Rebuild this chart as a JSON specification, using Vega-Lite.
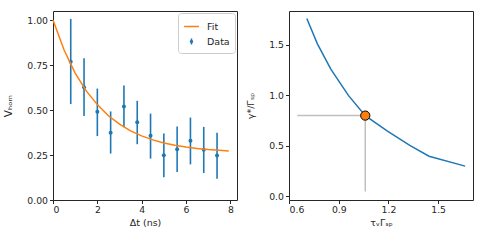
{
  "$schema": "https://vega.github.io/schema/vega-lite/v6.json",
  "padding": {"left": 2, "top": 10, "right": 5, "bottom": 5},
  "spacing": 6,
  "resolve": {"legend": {"color": "independent"}, "scale": {"color": "independent"}},
  "config": {
    "font": "DejaVu Sans",
    "view": {"stroke": "#262626", "strokeWidth": 1},
    "axis": {
      "grid": false,
      "domain": false,
      "tickColor": "#262626",
      "tickSize": 3.5,
      "labelColor": "#262626",
      "labelFont": "DejaVu Sans",
      "labelFontSize": 9.3,
      "labelPadding": 2,
      "titleFont": "DejaVu Sans",
      "titleFontSize": 9.5,
      "titleFontWeight": "normal",
      "titleColor": "#262626"
    }
  },
  "hconcat": [
    {
      "width": 184,
      "height": 189,
      "layer": [
        {
          "data": {"values": [
            {"t": 0.8, "v": 0.768, "lo": 0.533, "hi": 1.006},
            {"t": 1.4, "v": 0.626, "lo": 0.467, "hi": 0.787},
            {"t": 2.0, "v": 0.490, "lo": 0.355, "hi": 0.619},
            {"t": 2.6, "v": 0.374, "lo": 0.258, "hi": 0.492},
            {"t": 3.2, "v": 0.520, "lo": 0.404, "hi": 0.636},
            {"t": 3.8, "v": 0.432, "lo": 0.310, "hi": 0.551},
            {"t": 4.4, "v": 0.357, "lo": 0.230, "hi": 0.480},
            {"t": 5.0, "v": 0.249, "lo": 0.127, "hi": 0.370},
            {"t": 5.6, "v": 0.282, "lo": 0.155, "hi": 0.409},
            {"t": 6.2, "v": 0.329, "lo": 0.198, "hi": 0.458},
            {"t": 6.8, "v": 0.279, "lo": 0.150, "hi": 0.406},
            {"t": 7.4, "v": 0.247, "lo": 0.118, "hi": 0.374}
          ]},
          "mark": {"type": "rule", "color": "#1f77b4", "strokeWidth": 1.6},
          "encoding": {
            "x": {"field": "t", "type": "quantitative"},
            "y": {"field": "lo", "type": "quantitative"},
            "y2": {"field": "hi"}
          }
        },
        {
          "data": {"values": [
            {"t": 0.8, "v": 0.768, "series": "Data"},
            {"t": 1.4, "v": 0.626, "series": "Data"},
            {"t": 2.0, "v": 0.490, "series": "Data"},
            {"t": 2.6, "v": 0.374, "series": "Data"},
            {"t": 3.2, "v": 0.520, "series": "Data"},
            {"t": 3.8, "v": 0.432, "series": "Data"},
            {"t": 4.4, "v": 0.357, "series": "Data"},
            {"t": 5.0, "v": 0.249, "series": "Data"},
            {"t": 5.6, "v": 0.282, "series": "Data"},
            {"t": 6.2, "v": 0.329, "series": "Data"},
            {"t": 6.8, "v": 0.279, "series": "Data"},
            {"t": 7.4, "v": 0.247, "series": "Data"}
          ]},
          "mark": {"type": "point", "filled": true, "opacity": 1, "size": 16, "shape": "circle"},
          "encoding": {
            "x": {"field": "t", "type": "quantitative"},
            "y": {"field": "v", "type": "quantitative"},
            "color": {"field": "series", "type": "nominal"}
          }
        },
        {
          "data": {"values": [
            {"t": 0.0, "v": 1.0, "series": "Fit"},
            {"t": 0.5, "v": 0.833, "series": "Fit"},
            {"t": 1.0, "v": 0.705, "series": "Fit"},
            {"t": 1.5, "v": 0.606, "series": "Fit"},
            {"t": 2.0, "v": 0.530, "series": "Fit"},
            {"t": 2.5, "v": 0.468, "series": "Fit"},
            {"t": 3.0, "v": 0.421, "series": "Fit"},
            {"t": 3.5, "v": 0.384, "series": "Fit"},
            {"t": 4.0, "v": 0.356, "series": "Fit"},
            {"t": 4.5, "v": 0.334, "series": "Fit"},
            {"t": 5.0, "v": 0.317, "series": "Fit"},
            {"t": 5.5, "v": 0.304, "series": "Fit"},
            {"t": 6.0, "v": 0.294, "series": "Fit"},
            {"t": 6.5, "v": 0.286, "series": "Fit"},
            {"t": 7.0, "v": 0.280, "series": "Fit"},
            {"t": 7.5, "v": 0.276, "series": "Fit"},
            {"t": 7.93, "v": 0.272, "series": "Fit"}
          ]},
          "mark": {"type": "line", "strokeWidth": 1.5},
          "encoding": {
            "x": {
              "field": "t", "type": "quantitative",
              "scale": {"domain": [0, 8.3], "nice": false, "zero": false},
              "axis": {"values": [0, 2, 4, 6, 8], "format": "d", "title": "Δt (ns)", "titlePadding": 3}
            },
            "y": {
              "field": "v", "type": "quantitative",
              "scale": {"domain": [0, 1.05], "nice": false},
              "axis": {"values": [0, 0.25, 0.5, 0.75, 1.0], "format": ".2f", "title": "Vₕₒₘ", "titleFontSize": 10.5, "titlePadding": 4, "minExtent": 36, "maxExtent": 36}
            },
            "color": {
              "field": "series", "type": "nominal",
              "scale": {"domain": ["Fit", "Data"], "range": ["#ff7f0e", "#1f77b4"]},
              "legend": {
                "title": null,
                "orient": "top-right",
                "offset": 2,
                "padding": 5,
                "strokeColor": "#cccccc",
                "fillColor": "white",
                "cornerRadius": 3,
                "labelFontSize": 9.5,
                "labelColor": "#262626",
                "symbolSize": 220,
                "symbolStrokeWidth": 1.5,
                "rowPadding": 2,
                "labelOffset": 7,
                "encode": {
                  "symbols": {
                    "update": {
                      "shape": {"signal": "datum.label === 'Fit' ? 'stroke' : 'M0,-0.4V0.4M-0.13,0A0.13,0.13 0 1,0 0.13,0A0.13,0.13 0 1,0 -0.13,0Z'"},
                      "fill": {"signal": "datum.label === 'Fit' ? 'transparent' : '#1f77b4'"},
                      "stroke": {"signal": "datum.label === 'Fit' ? '#ff7f0e' : '#1f77b4'"}
                    }
                  }
                }
              }
            }
          }
        }
      ]
    },
    {
      "width": 184,
      "height": 189,
      "layer": [
        {
          "data": {"values": [
            {"x": 0.65, "x2": 1.06, "y": 0.8, "y2": 0.8},
            {"x": 1.06, "x2": 1.06, "y": 0.05, "y2": 0.8}
          ]},
          "mark": {"type": "rule", "color": "#bfbfbf", "strokeWidth": 1.5},
          "encoding": {
            "x": {"field": "x", "type": "quantitative"},
            "x2": {"field": "x2"},
            "y": {"field": "y", "type": "quantitative"},
            "y2": {"field": "y2"}
          }
        },
        {
          "data": {"values": [
            {"x": 0.707, "y": 1.76},
            {"x": 0.771, "y": 1.51},
            {"x": 0.852, "y": 1.26},
            {"x": 0.958, "y": 1.00},
            {"x": 1.06, "y": 0.80},
            {"x": 1.194, "y": 0.647},
            {"x": 1.329, "y": 0.505},
            {"x": 1.445, "y": 0.398},
            {"x": 1.663, "y": 0.30}
          ]},
          "mark": {"type": "line", "color": "#1f77b4", "strokeWidth": 1.5},
          "encoding": {
            "x": {"field": "x", "type": "quantitative"},
            "y": {"field": "y", "type": "quantitative"}
          }
        },
        {
          "data": {"values": [{"x": 1.06, "y": 0.80}]},
          "mark": {"type": "point", "filled": true, "shape": "circle", "size": 85, "color": "#ff7f0e", "stroke": "black", "strokeWidth": 1, "opacity": 1},
          "encoding": {
            "x": {
              "field": "x", "type": "quantitative",
              "scale": {"domain": [0.5995, 1.7105], "nice": false, "zero": false},
              "axis": {"values": [0.6, 0.9, 1.2, 1.5], "format": ".1f", "title": "τᵥΓₛₚ", "titlePadding": 3}
            },
            "y": {
              "field": "y", "type": "quantitative",
              "scale": {"domain": [-0.035, 1.835], "nice": false, "zero": false},
              "axis": {"values": [0, 0.5, 1.0, 1.5], "format": ".1f", "title": "γ*/Γₛₚ", "titlePadding": 4, "minExtent": 30, "maxExtent": 30}
            }
          }
        }
      ]
    }
  ]
}
